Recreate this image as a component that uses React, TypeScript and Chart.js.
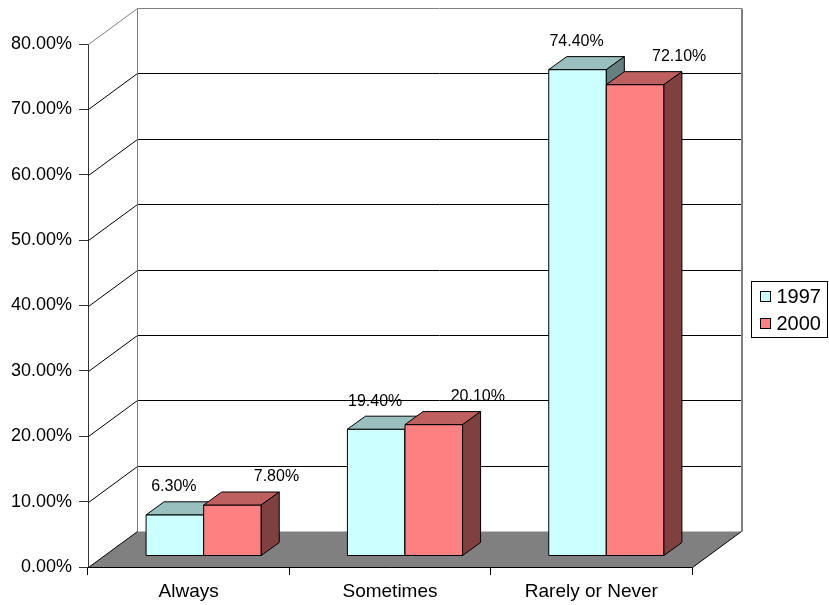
import React, { useEffect, useRef } from 'react';
import Chart from 'chart.js/auto';

const categories = ['Always', 'Sometimes', 'Rarely or Never'];
const seriesNames = ['1997', '2000'];
const values1997 = [6.3, 19.4, 74.4];
const values2000 = [7.8, 20.1, 72.1];
const yMin = 0;
const yMax = 80;
const yStep = 10;

const FONT = '"Liberation Sans", Arial, Helvetica, sans-serif';

// front / top / side face colours for each series
const faces = [
  { front: '#CCFFFF', top: '#99BFBF', side: '#668080' },
  { front: '#FF8080', top: '#BF6060', side: '#804040' },
];

// depth of the box (side wall, back wall, floor)
const WALL_DX = 49;
const WALL_DY = -36;
// the bars' front faces sit part way into the box
const BAR_DX = 15;
const BAR_DY = -11;
// depth of each bar
const BAR_DEPTH_DX = 18;
const BAR_DEPTH_DY = -13;
// value-label placement relative to each bar's front top edge
const LABEL_SHIFT = [
  { dx: -1, dy: -28 },
  { dx: 44, dy: -28 },
];

const fmtPct = (v: number) => v.toFixed(2) + '%';

const box3d = {
  id: 'box3d',
  beforeDatasetsDraw(chart: any) {
    const { ctx, chartArea: a, scales } = chart;
    const ys = scales.y;
    const top = Math.round(ys.getPixelForValue(yMax)) + 0.5;
    const bottom = Math.round(ys.getPixelForValue(yMin)) + 0.5;
    const left = Math.round(a.left) + 0.5;
    const right = Math.round(a.right) + 0.5;
    ctx.save();

    // horizontal gridlines running along the side wall and the back wall
    ctx.lineWidth = 1;
    ctx.strokeStyle = '#000000';
    for (let v = yMin + yStep; v < yMax; v += yStep) {
      const py = Math.round(ys.getPixelForValue(v)) + 0.5;
      ctx.beginPath();
      ctx.moveTo(left, py);
      ctx.lineTo(left + WALL_DX, py + WALL_DY);
      ctx.lineTo(right + WALL_DX, py + WALL_DY);
      ctx.stroke();
    }

    // outline of the walls
    ctx.strokeStyle = '#808080';
    ctx.beginPath();
    ctx.moveTo(left, top);
    ctx.lineTo(left + WALL_DX, top + WALL_DY);
    ctx.lineTo(right + WALL_DX, top + WALL_DY);
    ctx.lineTo(right + WALL_DX, bottom + WALL_DY);
    ctx.moveTo(left + WALL_DX, top + WALL_DY);
    ctx.lineTo(left + WALL_DX, bottom + WALL_DY);
    ctx.stroke();
    ctx.lineWidth = 2;
    ctx.beginPath();
    ctx.moveTo(right + WALL_DX + 0.5, top + WALL_DY);
    ctx.lineTo(right + WALL_DX + 0.5, bottom + WALL_DY);
    ctx.stroke();

    // floor
    ctx.lineWidth = 1;
    ctx.fillStyle = '#808080';
    ctx.beginPath();
    ctx.moveTo(left, bottom);
    ctx.lineTo(right, bottom);
    ctx.lineTo(right + WALL_DX, bottom + WALL_DY);
    ctx.lineTo(left + WALL_DX, bottom + WALL_DY);
    ctx.closePath();
    ctx.fill();
    ctx.strokeStyle = '#000000';
    ctx.beginPath();
    ctx.moveTo(left + WALL_DX, bottom + WALL_DY);
    ctx.lineTo(left, bottom);
    ctx.lineTo(right, bottom);
    ctx.lineTo(right + WALL_DX, bottom + WALL_DY);
    ctx.stroke();

    ctx.restore();
  },
  // the bars are drawn below as solid blocks, series by series
  beforeDatasetDraw() {
    return false;
  },
  afterDatasetsDraw(chart: any) {
    const { ctx } = chart;
    ctx.save();
    ctx.translate(BAR_DX, BAR_DY);
    ctx.lineWidth = 1;
    ctx.strokeStyle = '#000000';
    ctx.lineJoin = 'round';
    chart.data.datasets.forEach((_ds: any, di: number) => {
      const f = faces[di];
      chart.getDatasetMeta(di).data.forEach((bar: any) => {
        const { x, y, base, width } = bar.getProps(['x', 'y', 'base', 'width'], true);
        const x0 = x - width / 2;
        const x1 = x + width / 2;
        // front face
        ctx.fillStyle = f.front;
        ctx.beginPath();
        ctx.rect(x0, y, x1 - x0, base - y);
        ctx.fill();
        ctx.stroke();
        // top face
        ctx.fillStyle = f.top;
        ctx.beginPath();
        ctx.moveTo(x0, y);
        ctx.lineTo(x0 + BAR_DEPTH_DX, y + BAR_DEPTH_DY);
        ctx.lineTo(x1 + BAR_DEPTH_DX, y + BAR_DEPTH_DY);
        ctx.lineTo(x1, y);
        ctx.closePath();
        ctx.fill();
        ctx.stroke();
        // right side face
        ctx.fillStyle = f.side;
        ctx.beginPath();
        ctx.moveTo(x1, y);
        ctx.lineTo(x1 + BAR_DEPTH_DX, y + BAR_DEPTH_DY);
        ctx.lineTo(x1 + BAR_DEPTH_DX, base + BAR_DEPTH_DY);
        ctx.lineTo(x1, base);
        ctx.closePath();
        ctx.fill();
        ctx.stroke();
      });
    });
    ctx.restore();

    // value labels
    ctx.save();
    ctx.font = `16px ${FONT}`;
    ctx.fillStyle = '#000000';
    ctx.textAlign = 'center';
    ctx.textBaseline = 'middle';
    chart.data.datasets.forEach((ds: any, di: number) => {
      const meta = chart.getDatasetMeta(di);
      const s = LABEL_SHIFT[di];
      meta.data.forEach((bar: any, i: number) => {
        const { x, y } = bar.getProps(['x', 'y'], true);
        ctx.fillText(fmtPct(ds.data[i]), x + BAR_DX + s.dx, y + BAR_DY + s.dy);
      });
    });
    ctx.restore();
  },
  afterDraw(chart: any) {
    const { ctx, chartArea: a } = chart;
    const bx = Math.round(a.right + WALL_DX + 10) + 0.5;
    const rowH = 27;
    const bh = 56;
    const bw = 76;
    const by = Math.round((a.top + a.bottom) / 2 - bh / 2 + 3) + 0.5;
    ctx.save();
    ctx.lineWidth = 1;
    ctx.strokeStyle = '#000000';
    ctx.fillStyle = '#ffffff';
    ctx.fillRect(bx, by, bw, bh);
    ctx.strokeRect(bx, by, bw, bh);
    ctx.font = `20px ${FONT}`;
    ctx.textAlign = 'left';
    ctx.textBaseline = 'middle';
    chart.data.datasets.forEach((ds: any, i: number) => {
      const cy = by + 15 + i * rowH;
      ctx.fillStyle = ds.backgroundColor;
      ctx.fillRect(bx + 9, Math.round(cy - 5) - 0.5, 10, 10);
      ctx.strokeRect(bx + 9, Math.round(cy - 5) - 0.5, 10, 10);
      ctx.fillStyle = '#000000';
      ctx.fillText(ds.label, bx + 25, cy + 1);
    });
    ctx.restore();
  },
};

export default function App() {
  const canvasRef = useRef<HTMLCanvasElement | null>(null);

  useEffect(() => {
    const canvas = canvasRef.current;
    if (!canvas) return;
    const seriesValues = [values1997, values2000];
    const chart = new Chart(canvas, {
      type: 'bar',
      data: {
        labels: categories,
        datasets: seriesNames.map((name, i) => ({
          label: name,
          data: seriesValues[i],
          backgroundColor: faces[i].front,
          borderColor: '#000000',
          borderWidth: 1,
          borderSkipped: false,
          categoryPercentage: 0.572,
          barPercentage: 1.0,
          clip: false,
        })),
      },
      options: {
        responsive: false,
        animation: false,
        devicePixelRatio: 1,
        layout: { padding: { top: 44, right: 137, bottom: 0, left: 0 } },
        plugins: {
          legend: { display: false },
          tooltip: { enabled: false },
        },
        scales: {
          x: {
            afterFit: (s: any) => { s.height = 38; },
            grid: {
              display: true,
              drawOnChartArea: false,
              drawTicks: true,
              tickLength: 8,
              color: '#000000',
              offset: true,
            },
            border: { display: true, color: '#000000' },
            ticks: {
              color: '#000000',
              padding: 5,
              font: { family: FONT, size: 19 },
              maxRotation: 0,
            },
          },
          y: {
            min: yMin,
            max: yMax,
            afterFit: (s: any) => { s.width = 88; },
            grid: {
              display: true,
              drawOnChartArea: false,
              drawTicks: true,
              tickLength: 9,
              color: '#333333',
            },
            border: { display: true, color: '#333333' },
            ticks: {
              stepSize: yStep,
              color: '#000000',
              padding: 7,
              font: { family: FONT, size: 18 },
              callback: (v: any) => fmtPct(Number(v)),
            },
          },
        },
      },
      plugins: [box3d],
    } as any);
    return () => chart.destroy();
  }, []);

  return (
    <div style={{ position: 'absolute', left: 0, top: 0, width: 829, height: 605, background: '#ffffff' }}>
      <canvas ref={canvasRef} width={829} height={605} style={{ display: 'block' }} />
    </div>
  );
}
